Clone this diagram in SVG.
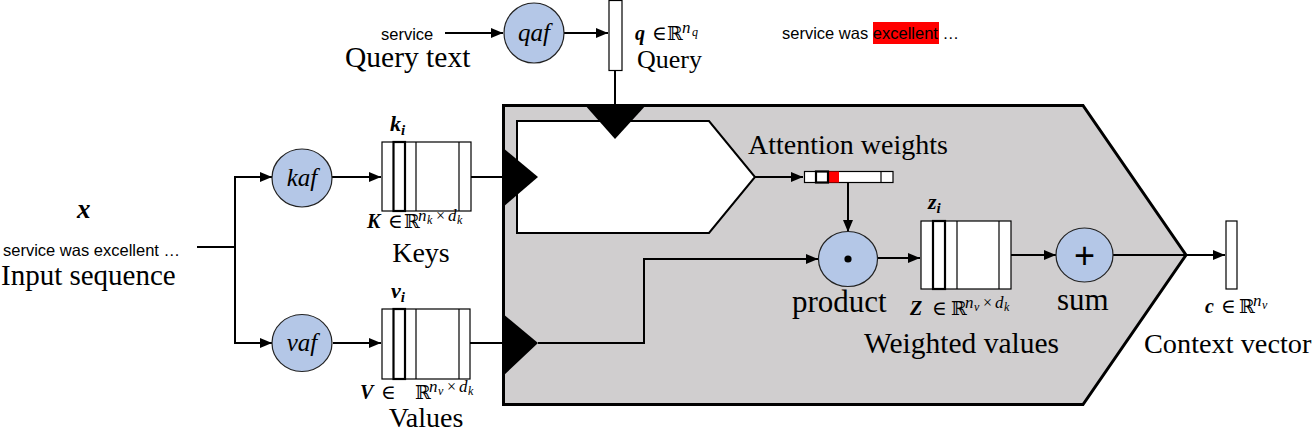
<svg xmlns="http://www.w3.org/2000/svg" width="1316" height="432" viewBox="0 0 1316 432">
<style>
.lbl{font-family:"Liberation Serif","Times New Roman",serif;font-size:28px;fill:#000}
.big{font-family:"Liberation Serif","Times New Roman",serif;font-size:31px;fill:#000}
.sans{font-family:"Liberation Sans",Arial,sans-serif;font-size:16.5px;fill:#000}
.fn{font-family:"Liberation Serif","Times New Roman",serif;font-size:25px;font-style:italic;fill:#000;text-anchor:middle}
.m{font-family:"Liberation Serif","DejaVu Serif",serif;font-size:20px;fill:#000}
.mi{font-family:"Liberation Serif","DejaVu Serif",serif;font-size:22px;fill:#000}
.b{font-weight:bold;font-style:italic}
.rr{font-family:"DejaVu Serif","DejaVu Sans",serif;font-size:19px}
.sup{font-size:17px;font-style:italic}
.sub2{font-size:12px;font-style:italic}
.sub{font-size:15px}
.x{font-size:16px}
.circ{fill:#b4c7e7;stroke:#222;stroke-width:1.2}
.mat{fill:#fff;stroke:#000;stroke-width:1.2}
.col{fill:#fff;stroke:#000;stroke-width:2.2}
.con{fill:none;stroke:#000;stroke-width:2}
.tri{fill:#000}
</style>
<defs>
<marker id="ah" markerUnits="userSpaceOnUse" markerWidth="12" markerHeight="10" refX="12" refY="5" orient="auto">
<path d="M0,0 L12,5 L0,10 z" fill="#000"/>
</marker>
</defs>

<g id="attention-block">
<polygon points="503.5,105.5 1083,105.5 1186,255 1083,404.5 503.5,404.5" fill="#d0cecf" stroke="#000" stroke-width="3"/>
<polygon points="517,121 709,121 755,177 709,233 517,233" fill="#fff" stroke="#000" stroke-width="2"/>
<polygon class="tri" points="584,104 647,104 615,139"/>
<polygon class="tri" points="502,147 538,177 502,208"/>
<polygon class="tri" points="502,313 538,343 502,377"/>
</g>

<g id="connectors">
<line class="con" x1="445" y1="33" x2="503" y2="33" marker-end="url(#ah)"/>
<line class="con" x1="564" y1="33" x2="608" y2="33" marker-end="url(#ah)"/>
<line class="con" x1="615" y1="71" x2="615" y2="105"/>
<line class="con" x1="197" y1="247" x2="235" y2="247"/>
<line class="con" x1="235" y1="176" x2="235" y2="344"/>
<polyline class="con" points="234,177 272,177" marker-end="url(#ah)"/>
<polyline class="con" points="234,343 272,343" marker-end="url(#ah)"/>
<line class="con" x1="332" y1="177" x2="381" y2="177" marker-end="url(#ah)"/>
<line class="con" x1="471" y1="177" x2="503" y2="177"/>
<line class="con" x1="333" y1="343" x2="381" y2="343" marker-end="url(#ah)"/>
<line class="con" x1="470" y1="343" x2="503" y2="343"/>
<polyline class="con" points="538,343 644,343 644,259 818,259" marker-end="url(#ah)"/>
<line class="con" x1="755" y1="177" x2="803" y2="177" marker-end="url(#ah)"/>
<line class="con" x1="848" y1="182" x2="848" y2="232" marker-end="url(#ah)"/>
<line class="con" x1="877" y1="258" x2="920" y2="258" marker-end="url(#ah)"/>
<line class="con" x1="1011" y1="255" x2="1056" y2="255" marker-end="url(#ah)"/>
<polyline class="con" points="1113,255 1186,255 1225,255" marker-end="url(#ah)"/>
</g>

<g id="query-text">
<text class="sans" x="381" y="40">service</text>
<text class="lbl" x="345" y="67" style="font-size:29.5px">Query text</text>
</g>

<g id="qaf">
<ellipse class="circ" cx="534" cy="33" rx="30" ry="30"/>
<text class="fn" x="534" y="41">qaf</text>
</g>

<g id="query">
<rect class="mat" x="609" y="0.5" width="13" height="70"/>
<text class="m" x="635" y="40"><tspan class="b">q</tspan><tspan x="652">∈</tspan><tspan class="rr" x="667">ℝ</tspan><tspan class="sup" x="682" dy="-7">n</tspan><tspan class="sub2" x="692" dy="3">q</tspan></text>
<text class="lbl" x="637" y="68" style="font-size:26px">Query</text>
</g>

<g id="highlight-text">
<rect x="873" y="22" width="66" height="22" fill="#ff0000"/>
<text class="sans" x="782" y="39">service was excellent …</text>
</g>

<g id="input">
<text class="m" x="77" y="218" style="font-size:27px"><tspan class="b">x</tspan></text>
<text class="sans" x="3" y="256">service was excellent …</text>
<text class="lbl" x="1" y="285" style="font-size:29px">Input sequence</text>
</g>

<g id="kaf">
<ellipse class="circ" cx="302" cy="178" rx="30" ry="29"/>
<text class="fn" x="302" y="186">kaf</text>
</g>

<g id="vaf">
<ellipse class="circ" cx="302" cy="343" rx="30" ry="28.5"/>
<text class="fn" x="302" y="351">vaf</text>
</g>

<g id="keys">
<rect class="mat" x="382" y="142" width="89" height="69"/>
<line stroke="#000" stroke-width="1.2" x1="416" y1="142" x2="416" y2="211"/>
<line stroke="#000" stroke-width="1.2" x1="459" y1="142" x2="459" y2="211"/>
<rect class="col" x="393.5" y="142" width="11.5" height="69"/>
<text class="mi" x="390" y="131"><tspan class="b">k</tspan><tspan class="b sub" dy="4">i</tspan></text>
<text class="m" x="367" y="228"><tspan class="b">K</tspan><tspan x="388">∈</tspan><tspan class="rr" x="404">ℝ</tspan><tspan class="sup" x="418" dy="-7">n</tspan><tspan class="sub2" x="427" dy="3">k</tspan><tspan class="x" x="436" dy="-3">×</tspan><tspan class="sup" x="448">d</tspan><tspan class="sub2" x="457" dy="3">k</tspan></text>
<text class="lbl" x="421" y="262" text-anchor="middle">Keys</text>
</g>

<g id="values">
<rect class="mat" x="382" y="309" width="88" height="70"/>
<line stroke="#000" stroke-width="1.2" x1="416" y1="309" x2="416" y2="379"/>
<line stroke="#000" stroke-width="1.2" x1="459" y1="309" x2="459" y2="379"/>
<rect class="col" x="393.5" y="309" width="11.5" height="70"/>
<text class="mi" x="391" y="298"><tspan class="b">v</tspan><tspan class="b sub" dy="4">i</tspan></text>
<text class="m" x="360" y="399"><tspan class="b">V</tspan><tspan x="381">∈</tspan><tspan class="rr" x="415">ℝ</tspan><tspan class="sup" x="429" dy="-7">n</tspan><tspan class="sub2" x="438" dy="3">v</tspan><tspan class="x" x="447" dy="-3">×</tspan><tspan class="sup" x="459">d</tspan><tspan class="sub2" x="468" dy="3">k</tspan></text>
<text class="lbl" x="426" y="427" text-anchor="middle">Values</text>
</g>

<g id="attention-weights">
<text class="lbl" x="748" y="154">Attention weights</text>
<rect class="mat" x="804.5" y="171.5" width="88.5" height="11"/>
<rect x="828.5" y="171.5" width="10.5" height="11" fill="#ff0000"/>
<line stroke="#000" stroke-width="1.2" x1="881" y1="171.5" x2="881" y2="182.5"/>
<rect class="col" x="816" y="171.5" width="12" height="11"/>
</g>

<g id="product">
<ellipse class="circ" cx="848" cy="259" rx="29.5" ry="27.5"/>
<circle cx="848" cy="259" r="3.6" fill="#000"/>
<text class="big" x="792" y="312">product</text>
</g>

<g id="weighted-values">
<rect class="mat" x="921" y="221" width="90" height="68"/>
<line stroke="#000" stroke-width="1.2" x1="957" y1="221" x2="957" y2="289"/>
<line stroke="#000" stroke-width="1.2" x1="999" y1="221" x2="999" y2="289"/>
<rect class="col" x="933" y="221" width="12" height="68"/>
<text class="mi" x="928" y="209"><tspan class="b">z</tspan><tspan class="b sub" dy="4">i</tspan></text>
<text class="m" x="910" y="315"><tspan class="b">Z</tspan><tspan x="932">∈</tspan><tspan class="rr" x="951">ℝ</tspan><tspan class="sup" x="965" dy="-7">n</tspan><tspan class="sub2" x="974" dy="3">v</tspan><tspan class="x" x="983" dy="-3">×</tspan><tspan class="sup" x="995">d</tspan><tspan class="sub2" x="1004" dy="3">k</tspan></text>
<text class="lbl" x="864" y="353" style="font-size:29.5px">Weighted values</text>
</g>

<g id="sum">
<ellipse class="circ" cx="1084.5" cy="255" rx="28.5" ry="27"/>
<text x="1084.5" y="268" text-anchor="middle" font-family="Liberation Sans,Arial,sans-serif" font-size="36">+</text>
<text class="big" x="1057" y="310">sum</text>
</g>

<g id="context">
<rect class="mat" x="1226" y="221" width="11" height="68"/>
<text class="m" x="1205" y="313"><tspan class="b">c</tspan><tspan x="1221">∈</tspan><tspan class="rr" x="1239">ℝ</tspan><tspan class="sup" x="1253" dy="-7">n</tspan><tspan class="sub2" x="1262" dy="3">v</tspan></text>
<text class="lbl" x="1144" y="353" style="font-size:28.3px">Context vector</text>
</g>
</svg>
